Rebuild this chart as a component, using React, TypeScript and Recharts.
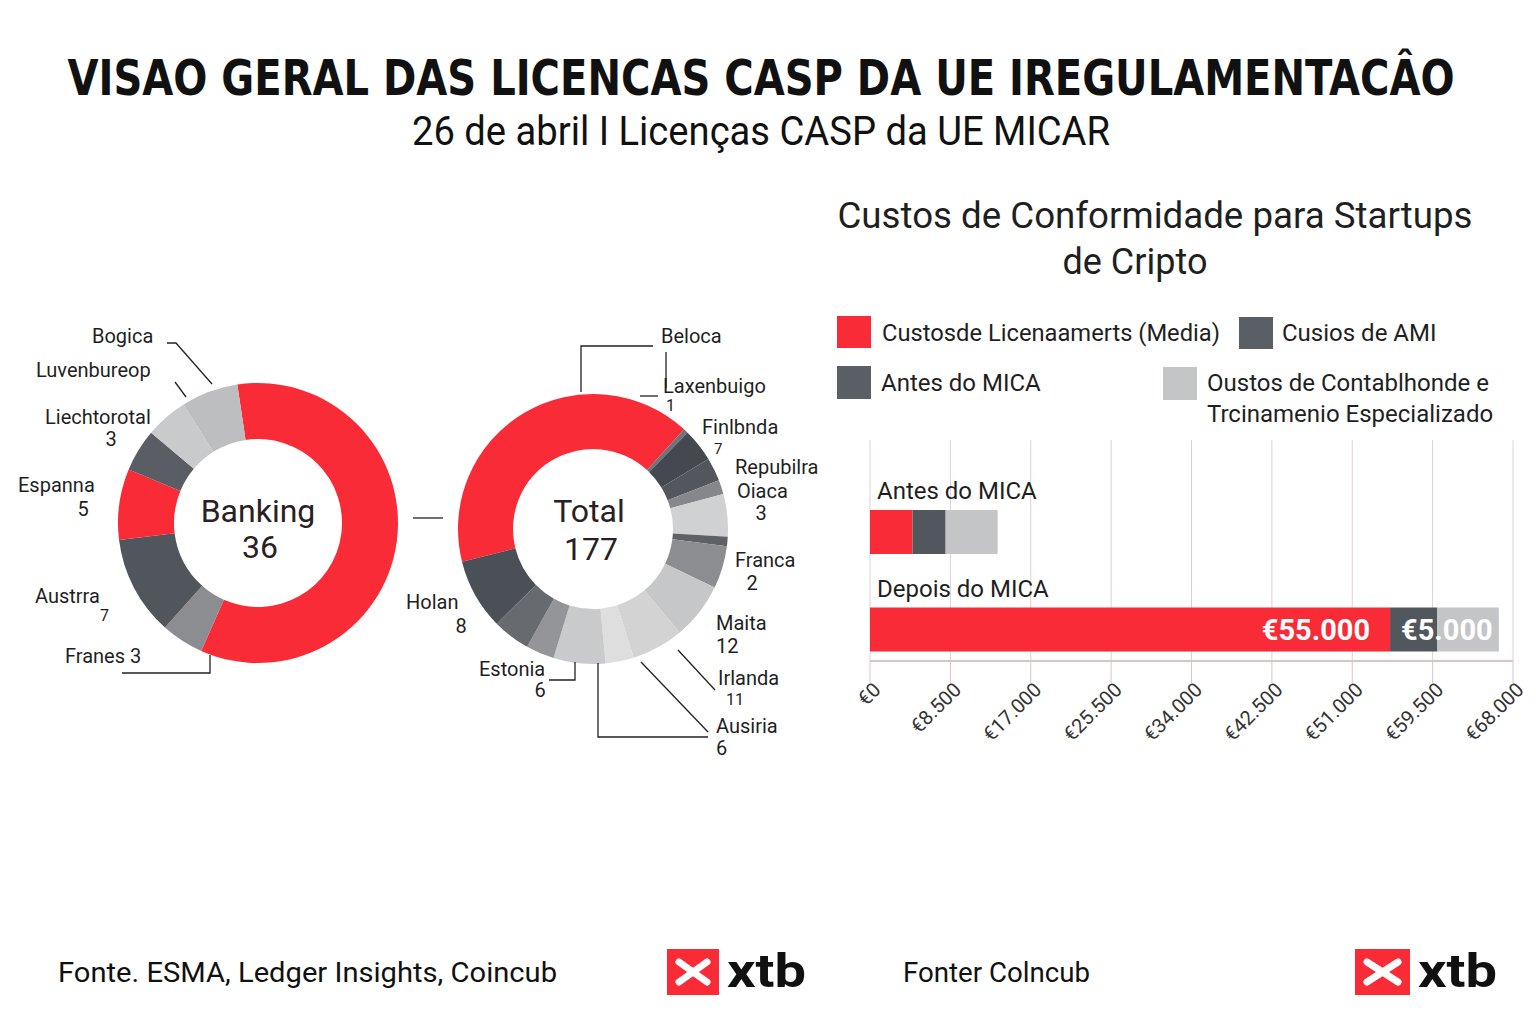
import React from "react";
import {
  Bar,
  BarChart,
  CartesianGrid,
  Cell,
  LabelList,
  Pie,
  PieChart,
  XAxis,
  YAxis,
} from "recharts";

const RED = "#f92b37";
const DARK = "#52565d";
const LIGHT = "#c4c5c7";
const INK = "#1f1f1f";
const FONT = "Roboto, 'Liberation Sans', sans-serif";

// Banking donut (red slice is the Banking total shown in the middle)
const bankingNames = ["Banking", "Franes", "Austrra", "Espanna", "Liechtorotal", "Luvenbureop", "Bogica"];
const bankingValues = [36, 3, 7, 5, 3, 3, 4];
const bankingColors = [RED, "#8b8d90", "#51555c", RED, "#5a5d63", "#c9cacb", "#bdbec0"];

// All licences donut
const totalNames = [
  "Beloca", "Laxenbuigo", "Finlbnda", "Outros A", "Repubilra Oiaca", "Outros B", "Franca",
  "Outros C", "Maita", "Irlanda", "Ausiria", "Outros D", "Estonia", "Holan", "Outros E",
];
const totalValues = [72, 1, 7, 5, 3, 9, 2, 9, 12, 11, 6, 11, 6, 8, 15];
const totalColors = [
  RED, "#717378", "#45484e", "#53575d", "#85878a", "#d0d1d2", "#5e6166", "#8b8d90",
  "#c6c7c8", "#d3d3d4", "#dedede", "#c9cacb", "#939598", "#676a6f", "#4b4f56",
];

// Compliance costs
const stages = ["Antes do MICA", "Depois do MICA"];
const licensingCosts = [4500, 55000];
const amlCosts = [3500, 5000];
const trainingCosts = [5500, 6500];
const costTicks = [0, 8500, 17000, 25500, 34000, 42500, 51000, 59500, 68000];

const seriesNames = {
  licensing: "Custosde Licenaamerts (Media)",
  aml: "Cusios de AMI",
  training: ["Oustos de Contablhonde e", "Trcinamenio Especializado"],
};

const bankingData = bankingNames.map((name, i) => ({ name, value: bankingValues[i] }));
const totalData = totalNames.map((name, i) => ({ name, value: totalValues[i] }));
const costRows = stages.map((stage, i) => ({
  stage,
  licensing: licensingCosts[i],
  aml: amlCosts[i],
  training: trainingCosts[i],
}));

const euro = (v: number) => "€" + String(v).replace(/\B(?=(\d{3})+(?!\d))/g, ".");

type Pt = [number, number];
type Anchor = "start" | "middle" | "end";
type Tag = {
  name: Pt[];
  num?: Pt;
  numAnchor?: Anchor;
  numSize?: number;
  inline?: boolean;
  leaders?: Pt[][];
};

// label placement, page coordinates
const bankTags: Record<number, Tag> = {
  1: { name: [[65, 663]], inline: true, leaders: [[[122, 673], [210, 673], [210, 655]]] },
  2: { name: [[35, 603]], num: [100, 621], numSize: 16 },
  3: { name: [[18, 492]], num: [83, 516], numAnchor: "middle" },
  4: { name: [[45, 424]], num: [111, 446], numAnchor: "middle" },
  5: { name: [[36, 377]], leaders: [[[175, 382], [186, 397]]] },
  6: { name: [[92, 343]], leaders: [[[167, 343], [176, 343], [212, 384]]] },
};

const totalTags: Record<number, Tag> = {
  0: { name: [[661, 343]], leaders: [[[581, 392], [581, 346], [653, 346]], [[666, 352], [666, 388]]] },
  1: { name: [[663, 393]], num: [666, 411], numSize: 16, leaders: [[[640, 396], [658, 396]]] },
  2: { name: [[702, 434]], num: [714, 454], numSize: 15 },
  4: { name: [[735, 474], [737, 498]], num: [761, 520], numAnchor: "middle" },
  6: { name: [[735, 567]], num: [752, 590], numAnchor: "middle" },
  8: { name: [[716, 630]], num: [716, 653] },
  9: { name: [[718, 685]], num: [726, 705], numSize: 16, leaders: [[[678, 650], [715, 690]]] },
  10: { name: [[716, 733]], num: [716, 755], leaders: [[[641, 662], [708, 732]], [[598, 663], [598, 737], [708, 737]]] },
  12: { name: [[479, 676]], num: [540, 697], numAnchor: "middle", leaders: [[[575, 662], [575, 680], [549, 680]]] },
  13: { name: [[406, 609]], num: [461, 633], numAnchor: "middle" },
};

function drawTag(tag: Tag | undefined, name: string, value: number, ox: number, oy: number) {
  if (!tag) return null;
  const lines = tag.name.length > 1 ? name.split(" ") : [tag.inline ? `${name} ${value}` : name];
  return (
    <g>
      {(tag.leaders || []).map((pts, k) => (
        <polyline
          key={k}
          points={pts.map(([x, y]) => `${x - ox},${y - oy}`).join(" ")}
          fill="none"
          stroke="#222"
          strokeWidth={1.3}
        />
      ))}
      {lines.map((line, k) => (
        <text key={k} x={tag.name[k][0] - ox} y={tag.name[k][1] - oy} fontFamily={FONT} fontSize={20} fill={INK}>
          {line}
        </text>
      ))}
      {tag.num && (
        <text
          x={tag.num[0] - ox}
          y={tag.num[1] - oy}
          textAnchor={tag.numAnchor || "start"}
          fontFamily={FONT}
          fontSize={tag.numSize || 20}
          fill={INK}
        >
          {value}
        </text>
      )}
    </g>
  );
}

// text in the hole of a donut
function centerText(cx: number, cy: number, top: string, bottom: string, dy1: number, dy2: number) {
  return (
    <text textAnchor="middle" fontFamily={FONT} fontSize={32} fill="#2a2024">
      <tspan x={cx} y={cy + dy1}>{top}</tspan>
      <tspan x={cx + 2} y={cy + dy2}>{bottom}</tspan>
    </text>
  );
}

function bankLabel(p: any) {
  const i = p.index;
  if (i === 0) return centerText(p.cx, p.cy, bankingNames[0], String(bankingValues[0]), -1, 35);
  return drawTag(bankTags[i], bankingNames[i], bankingValues[i], 0, 300);
}

function totalLabel(p: any) {
  const i = p.index;
  const sum = totalValues.reduce((a, b) => a + b, 0);
  return (
    <g>
      {i === 0 && centerText(p.cx - 4, p.cy, "Total", String(sum), -7, 31)}
      {drawTag(totalTags[i], totalNames[i], totalValues[i], 400, 300)}
    </g>
  );
}

function CostTick({ x, y, payload }: any) {
  const ax = x + 12;
  const ay = y + 6;
  return (
    <text
      x={ax}
      y={ay}
      transform={`rotate(-45 ${ax} ${ay})`}
      textAnchor="end"
      fontFamily={FONT}
      fontSize={20}
      fill="#333"
    >
      {euro(payload.value)}
    </text>
  );
}

function StageLabel({ x, y, value }: any) {
  return (
    <text x={x + 7} y={y - 11} fontFamily={FONT} fontSize={24} fill={INK}>
      {value}
    </text>
  );
}

function LicensingLabel({ x, y, width, height, value }: any) {
  if (value < 20000) return null;
  return (
    <text
      x={x + width - 20}
      y={y + height / 2 + 10}
      textAnchor="end"
      fontFamily={FONT}
      fontWeight="bold"
      fontSize={29}
      fill="#fff"
    >
      {euro(value)}
    </text>
  );
}

function AmlLabel({ x, y, height, value, index }: any) {
  if (index !== 1) return null;
  return (
    <text x={x + 11} y={y + height / 2 + 10} fontFamily={FONT} fontWeight="bold" fontSize={29} fill="#fff">
      {euro(value)}
    </text>
  );
}

function Logo({ x, w }: { x: number; w: number }) {
  return (
    <g>
      <rect x={x} y={949} width={w} height={46} fill={RED} />
      <line x1={x + 12} y1={962} x2={x + w - 12} y2={982} stroke="#fff" strokeWidth={7} strokeLinecap="round" />
      <line x1={x + 12} y1={982} x2={x + w - 12} y2={962} stroke="#fff" strokeWidth={7} strokeLinecap="round" />
      <text x={x + w + 8} y={987} fontFamily={FONT} fontWeight="bold" fontSize={46} fill="#111" textLength={79} lengthAdjust="spacingAndGlyphs">
        xtb
      </text>
    </g>
  );
}

export default function App() {
  return (
    <div style={{ position: "fixed", left: 0, top: 0, width: 1536, height: 1024, background: "#fff", overflow: "hidden" }}>
      <svg width={1536} height={1024} style={{ position: "absolute", left: 0, top: 0 }}>
        <text
          x={761}
          y={95}
          textAnchor="middle"
          fontFamily="'Liberation Sans Narrow', 'DejaVu Sans Condensed', sans-serif"
          fontWeight="bold"
          fontSize={50}
          fill="#111"
          textLength={1387}
          lengthAdjust="spacingAndGlyphs"
        >
          VISAO GERAL DAS LICENCAS CASP DA UE IREGULAMENTACÂO
        </text>
        <text x={761} y={145} textAnchor="middle" fontFamily={FONT} fontSize={40} fill="#111" textLength={698} lengthAdjust="spacingAndGlyphs">
          26 de abril I Licenças CASP da UE MICAR
        </text>

        <text x={1155} y={228} textAnchor="middle" fontFamily={FONT} fontSize={36} fill={INK} textLength={635} lengthAdjust="spacingAndGlyphs">
          Custos de Conformidade para Startups
        </text>
        <text x={1135} y={274} textAnchor="middle" fontFamily={FONT} fontSize={36} fill={INK}>
          de Cripto
        </text>

        {/* legend */}
        <rect x={837} y={316} width={34} height={32} fill={RED} />
        <text x={882} y={341} fontFamily={FONT} fontSize={24} fill={INK} textLength={338} lengthAdjust="spacingAndGlyphs">
          {seriesNames.licensing}
        </text>
        <rect x={1239} y={317} width={34} height={32} fill="#5a5e65" />
        <text x={1282} y={341} fontFamily={FONT} fontSize={24} fill={INK}>{seriesNames.aml}</text>
        <rect x={837} y={366} width={34} height={33} fill="#5a5e65" />
        <text x={881} y={391} fontFamily={FONT} fontSize={24} fill={INK}>{stages[0]}</text>
        <rect x={1163} y={367} width={34} height={33} fill={LIGHT} />
        <text x={1207} y={391} fontFamily={FONT} fontSize={24} fill={INK}>{seriesNames.training[0]}</text>
        <text x={1207} y={422} fontFamily={FONT} fontSize={24} fill={INK}>{seriesNames.training[1]}</text>

        <line x1={413} y1={518} x2={443} y2={518} stroke="#222" strokeWidth={1.3} />

        <text x={58} y={982} fontFamily={FONT} fontSize={27} fill="#111" textLength={499} lengthAdjust="spacingAndGlyphs">
          Fonte. ESMA, Ledger Insights, Coincub
        </text>
        <text x={903} y={982} fontFamily={FONT} fontSize={27} fill="#111" textLength={187} lengthAdjust="spacingAndGlyphs">
          Fonter Colncub
        </text>
        <Logo x={667} w={52} />
        <Logo x={1355} w={55} />
      </svg>

      <div style={{ position: "absolute", left: 0, top: 300 }}>
        <PieChart width={420} height={400} margin={{ top: 0, right: 0, bottom: 0, left: 0 }}>
          <Pie
            data={bankingData}
            dataKey="value"
            nameKey="name"
            cx={258}
            cy={223}
            innerRadius={84}
            outerRadius={140}
            startAngle={98.5}
            endAngle={-261.5}
            stroke="none"
            labelLine={false}
            label={bankLabel}
            isAnimationActive={false}
          >
            {bankingData.map((d, i) => (
              <Cell key={d.name} fill={bankingColors[i]} />
            ))}
          </Pie>
        </PieChart>
      </div>

      <div style={{ position: "absolute", left: 400, top: 300 }}>
        <PieChart width={440} height={470} margin={{ top: 0, right: 0, bottom: 0, left: 0 }}>
          <Pie
            data={totalData}
            dataKey="value"
            nameKey="name"
            cx={193}
            cy={229}
            innerRadius={80}
            outerRadius={135}
            startAngle={194}
            endAngle={-166}
            stroke="none"
            labelLine={false}
            label={totalLabel}
            isAnimationActive={false}
          >
            {totalData.map((d, i) => (
              <Cell key={d.name} fill={totalColors[i]} />
            ))}
          </Pie>
        </PieChart>
      </div>

      <div style={{ position: "absolute", left: 830, top: 420 }}>
        <BarChart
          layout="vertical"
          width={706}
          height={380}
          data={costRows}
          margin={{ top: 20, right: 23, left: 40, bottom: 0 }}
          barSize={44}
        >
          <CartesianGrid horizontal={false} stroke="#ddd0d2" />
          <XAxis
            type="number"
            domain={[0, 68000]}
            ticks={costTicks}
            interval={0}
            height={139}
            axisLine={{ stroke: "#d9c4c7", strokeWidth: 2 }}
            tickLine={{ stroke: "#d9c4c7" }}
            tickSize={22}
            tick={<CostTick />}
          />
          <YAxis type="category" dataKey="stage" hide padding={{ top: 43, bottom: -17 }} />
          <Bar dataKey="licensing" name={seriesNames.licensing} stackId="c" fill={RED} isAnimationActive={false}>
            <LabelList dataKey="stage" content={<StageLabel />} />
            <LabelList dataKey="licensing" content={<LicensingLabel />} />
          </Bar>
          <Bar dataKey="aml" name={seriesNames.aml} stackId="c" fill={DARK} isAnimationActive={false}>
            <LabelList dataKey="aml" content={<AmlLabel />} />
          </Bar>
          <Bar dataKey="training" name={seriesNames.training.join(" ")} stackId="c" fill={LIGHT} isAnimationActive={false} />
        </BarChart>
      </div>
    </div>
  );
}
